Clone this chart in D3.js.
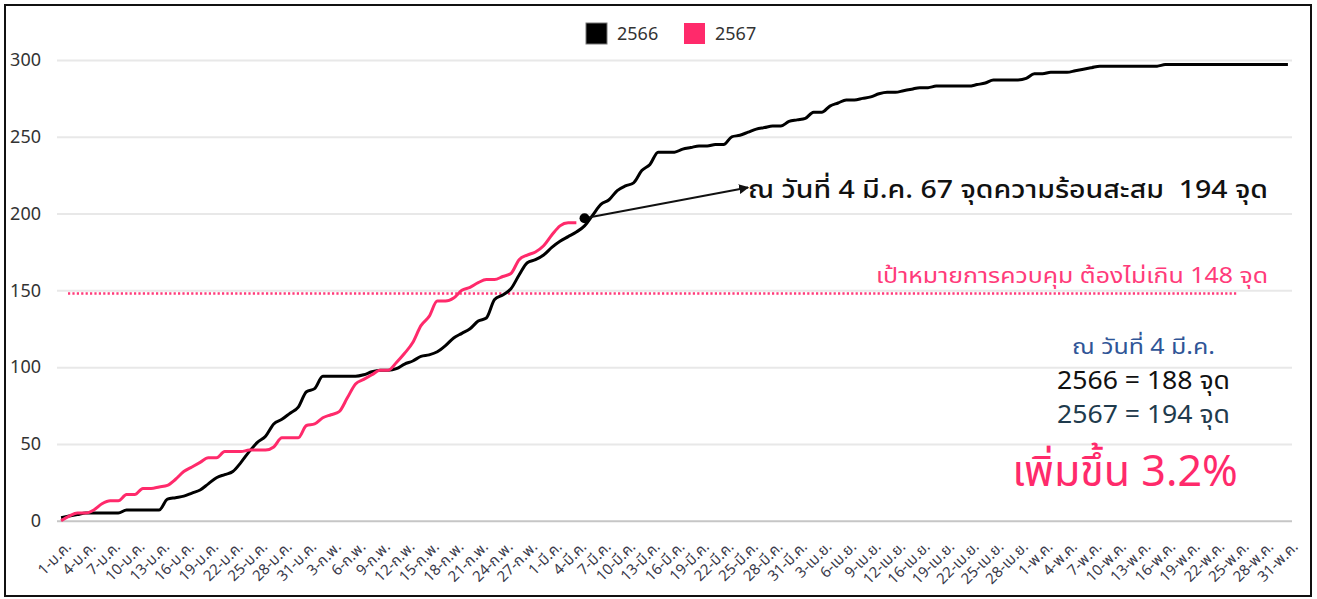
<!DOCTYPE html>
<html>
<head>
<meta charset="utf-8">
<script src="https://cdn.jsdelivr.net/npm/d3@7"></script>
<style>
  body { margin: 0; background: #fff; }
  svg text { font-family: "Noto Sans Thai", "Leelawadee UI", Tahoma, "Liberation Sans", Arial, sans-serif; }
</style>
</head>
<body>
<div id="chart"></div>
<script>
// month names and day counts for the category axis (one day is absent in April)
const months = [["ม.ค.", 31], ["ก.พ.", 29], ["มี.ค.", 31], ["เม.ย.", 30], ["พ.ค.", 31]];
const missingDay = "14-เม.ย.";

// cumulative hotspots, 2566 (full period)
const y2566 = [
  2, 3, 4, 5, 5, 5, 5, 5, 7, 7, 7, 7, 7, 14, 15, 16, 18, 20, 24, 28,
  30, 32, 38, 45, 51, 55, 63, 66, 70, 74, 84, 86, 94, 94, 94, 94, 94, 95, 97, 98,
  98, 99, 102, 104, 107, 108, 110, 114, 119, 122, 125, 130, 132, 144, 147, 151, 160, 168, 170, 173,
  178, 182, 185, 188, 192, 199, 206, 209, 215, 218, 220, 228, 232, 240, 240, 240, 242, 243, 244, 244,
  245, 245, 250, 251, 253, 255, 256, 257, 257, 260, 261, 262, 266, 266, 270, 272, 274, 274, 275, 276,
  278, 279, 279, 280, 281, 282, 282, 283, 283, 283, 283, 283, 284, 285, 287, 287, 287, 287, 288, 291,
  291, 292, 292, 292, 293, 294, 295, 296, 296, 296, 296, 296, 296, 296, 296, 297, 297, 297, 297, 297,
  297, 297, 297, 297, 297, 297, 297, 297, 297, 297, 297
];

// cumulative hotspots, 2567 (up to 4 Mar)
const y2567 = [
  0, 3, 5, 5, 7, 11, 13, 13, 17, 17, 21, 21, 22, 23, 27, 32, 35, 38, 41, 41,
  45, 45, 45, 46, 46, 46, 48, 54, 54, 54, 62, 63, 67, 69, 71, 80, 89, 92, 95, 98,
  98, 103, 109, 116, 127, 133, 143, 143, 145, 150, 152, 155, 157, 157, 159, 161, 170, 173, 175, 179,
  186, 192, 194, 194
];

const yTicks = [0, 50, 100, 150, 200, 250, 300];
const target = 148;
const seriesNames = ["2566", "2567"];
const colors = {"2566": "#000000", "2567": "#ff2a6b"};

const categories = [];
months.forEach(([m, n]) => {
  for (let d = 1; d <= n; d++) {
    const label = d + "-" + m;
    if (label !== missingDay) categories.push(label);
  }
});

const W = 1317, H = 599;
const svg = d3.select("#chart").append("svg")
  .attr("width", W).attr("height", H);

svg.append("rect")
  .attr("x", 5).attr("y", 5).attr("width", 1306).attr("height", 591)
  .attr("fill", "white").attr("stroke", "#111").attr("stroke-width", 2);

const x = d3.scaleBand().domain(categories).range([57, 1292]).padding(0);
const cx = c => x(c) + x.bandwidth() / 2;
const y = d3.scaleLinear().domain([0, 300]).range([520.7, 60]);

// gridlines + y labels
const yAxis = svg.append("g")
  .attr("transform", "translate(57,0)")
  .call(d3.axisLeft(y).tickValues(yTicks).tickSize(-1235).tickPadding(16));
yAxis.select(".domain").remove();
yAxis.selectAll(".tick line").attr("stroke", d => d === 0 ? "#c6c6c6" : "#e8e8e8").attr("stroke-width", 2);
yAxis.selectAll(".tick text").attr("font-size", 18).attr("fill", "#333");

// x axis
const xAxis = svg.append("g")
  .attr("transform", `translate(0,${y(0)})`)
  .call(d3.axisBottom(x).tickValues(categories.filter((d, i) => i % 3 === 0)).tickSize(0));
xAxis.select(".domain").remove();
xAxis.selectAll(".tick text")
  .attr("font-size", 15).attr("fill", "#3a3a4a")
  .attr("y", 0).attr("dy", 0)
  .attr("text-anchor", "end")
  .attr("transform", "translate(11,27) rotate(-45)");

// target line
svg.append("line")
  .attr("x1", 68).attr("x2", 1238)
  .attr("y1", y(target)).attr("y2", y(target))
  .attr("stroke", "#ff3b7a").attr("stroke-width", 2.5)
  .attr("stroke-dasharray", "2.2,2.2");

const line = d3.line()
  .x((d, i) => cx(categories[i]))
  .y(d => y(d))
  .curve(d3.curveMonotoneX);

svg.append("path").datum(y2566)
  .attr("d", line).attr("fill", "none")
  .attr("stroke", colors["2566"]).attr("stroke-width", 3);
svg.append("path").datum(y2567)
  .attr("d", line).attr("fill", "none")
  .attr("stroke", colors["2567"]).attr("stroke-width", 3);

// legend
const lg = svg.append("g");
[[586, "2566"], [684, "2567"]].forEach(([lx, name]) => {
  lg.append("rect").attr("x", lx).attr("y", 23).attr("width", 21).attr("height", 21)
    .attr("fill", colors[name]).attr("stroke", name === "2566" ? "#777" : "none").attr("stroke-width", 1);
  lg.append("text").attr("x", lx + 31).attr("y", 40).attr("font-size", 18).attr("fill", "#333").text(name);
});

// annotation: dot + arrow
const defs = svg.append("defs");
defs.append("marker").attr("id", "arr").attr("viewBox", "0 0 10 10")
  .attr("refX", 9).attr("refY", 5).attr("markerWidth", 5).attr("markerHeight", 5)
  .attr("orient", "auto")
  .append("path").attr("d", "M0,0 L10,5 L0,10 z").attr("fill", "#111");

const dotX = cx(categories[64]), dotY = y(197);
svg.append("line")
  .attr("x1", dotX).attr("y1", dotY)
  .attr("x2", cx(categories[84])).attr("y2", y(217))
  .attr("stroke", "#111").attr("stroke-width", 2).attr("marker-end", "url(#arr)");
svg.append("circle").attr("cx", dotX).attr("cy", dotY).attr("r", 5).attr("fill", "#000");

svg.append("text").attr("x", 748).attr("y", 198)
  .attr("font-size", 25).attr("font-weight", 500).attr("fill", "#111")
  .attr("textLength", 520).attr("lengthAdjust", "spacingAndGlyphs")
  .style("white-space", "pre")
  .text("ณ วันที่ 4 มี.ค. 67 จุดความร้อนสะสม  194 จุด");

svg.append("text").attr("x", 876).attr("y", 283)
  .attr("font-size", 22).attr("fill", "#ff3b7a")
  .attr("textLength", 392).attr("lengthAdjust", "spacingAndGlyphs")
  .text("เป้าหมายการควบคุม ต้องไม่เกิน " + target + " จุด");

// summary block
svg.append("text").attr("x", 1072).attr("y", 354)
  .attr("font-size", 22).attr("fill", "#2f5597")
  .attr("textLength", 143).attr("lengthAdjust", "spacingAndGlyphs")
  .text("ณ วันที่ 4 มี.ค.");
svg.append("text").attr("x", 1057).attr("y", 389)
  .attr("font-size", 24.5).attr("fill", "#111")
  .attr("textLength", 173).attr("lengthAdjust", "spacingAndGlyphs")
  .text("2566 = " + y2566[63] + " จุด");
svg.append("text").attr("x", 1057).attr("y", 423)
  .attr("font-size", 24.5).attr("fill", "#1f3b4d")
  .attr("textLength", 173).attr("lengthAdjust", "spacingAndGlyphs")
  .text("2567 = " + y2567[63] + " จุด");
svg.append("text").attr("x", 1125).attr("y", 486).attr("text-anchor", "middle")
  .attr("font-size", 43).attr("fill", "#ff2a6b").text("เพิ่มขึ้น 3.2%");
</script>
</body>
</html>
